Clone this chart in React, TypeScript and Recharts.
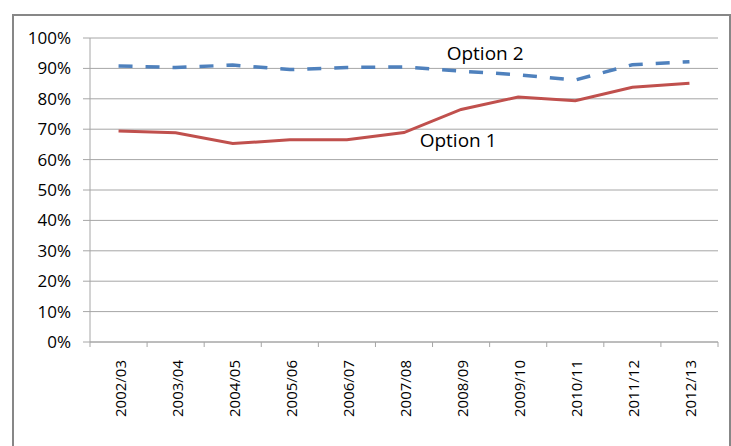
import {
  LineChart,
  Line,
  XAxis,
  YAxis,
  CartesianGrid,
  ReferenceDot,
} from "recharts";

const years = [
  "2002/03",
  "2003/04",
  "2004/05",
  "2005/06",
  "2006/07",
  "2007/08",
  "2008/09",
  "2009/10",
  "2010/11",
  "2011/12",
  "2012/13",
];

const option1 = [0.694, 0.688, 0.653, 0.665, 0.665, 0.689, 0.765, 0.806, 0.794, 0.838, 0.851];
const option2 = [0.908, 0.903, 0.911, 0.896, 0.903, 0.905, 0.891, 0.879, 0.862, 0.912, 0.922];

const yTicks = [0, 0.1, 0.2, 0.3, 0.4, 0.5, 0.6, 0.7, 0.8, 0.9, 1];

const data = years.map((year, i) => ({
  year,
  option1: option1[i],
  option2: option2[i],
}));

const FONT = "'Open Sans', sans-serif";
const AXIS = "#a6a6a6";
const PLOT_W = 628;
const HALF = PLOT_W / years.length / 2;

// rotated year labels, tick marks sit on the band edges
function YearTick(props: any) {
  const { x, y, payload, index } = props;
  return (
    <g>
      <line x1={x - HALF} y1={y - 8} x2={x - HALF} y2={y - 3} stroke={AXIS} />
      {index === years.length - 1 && (
        <line x1={x + HALF} y1={y - 8} x2={x + HALF} y2={y - 3} stroke={AXIS} />
      )}
      <text
        transform={`translate(${x + 1},${y + 10}) rotate(-90)`}
        textAnchor="end"
        dominantBaseline="central"
        fontFamily={FONT}
        fontSize={15}
        fill="#000"
      >
        {payload.value}
      </text>
    </g>
  );
}

export default function App() {
  return (
    <div
      style={{
        position: "fixed",
        left: 0,
        top: 0,
        width: 731,
        height: 446,
        background: "#fff",
        overflow: "hidden",
      }}
    >
      <div
        style={{
          position: "absolute",
          left: 12,
          top: 14,
          width: 715,
          height: 460,
          border: "2px solid #878787",
        }}
      />
      <div style={{ position: "absolute", left: 0, top: 0 }}>
        <LineChart
          width={731}
          height={446}
          data={data}
          margin={{ top: 38, right: 13, left: 30, bottom: 24 }}
        >
          <CartesianGrid vertical={false} stroke={AXIS} strokeWidth={1} />
          <XAxis
            dataKey="year"
            interval={0}
            height={80}
            stroke={AXIS}
            tickLine={false}
            padding={{ left: HALF, right: HALF }}
            tick={<YearTick />}
          />
          <YAxis
            domain={[0, 1]}
            ticks={yTicks}
            width={60}
            stroke={AXIS}
            tickSize={7}
            tickMargin={12}
            tickFormatter={(v: number) => `${Math.round(v * 100)}%`}
            tick={{ fill: "#000", fontFamily: FONT, fontSize: 17 }}
          />
          <Line
            dataKey="option2"
            stroke="#4f81bd"
            strokeWidth={3.5}
            strokeDasharray="14 13"
            dot={false}
            isAnimationActive={false}
          />
          <Line
            dataKey="option1"
            stroke="#c0504d"
            strokeWidth={3}
            dot={false}
            isAnimationActive={false}
          />
          <ReferenceDot
            x="2008/09"
            y={0.951}
            r={0}
            stroke="none"
            label={{
              value: "Option 2",
              position: "center",
              dx: 24,
              fontFamily: FONT,
              fontSize: 19,
              fill: "#000",
            }}
          />
          <ReferenceDot
            x="2008/09"
            y={0.664}
            r={0}
            stroke="none"
            label={{
              value: "Option 1",
              position: "center",
              dx: -3,
              fontFamily: FONT,
              fontSize: 19,
              fill: "#000",
            }}
          />
        </LineChart>
      </div>
    </div>
  );
}
